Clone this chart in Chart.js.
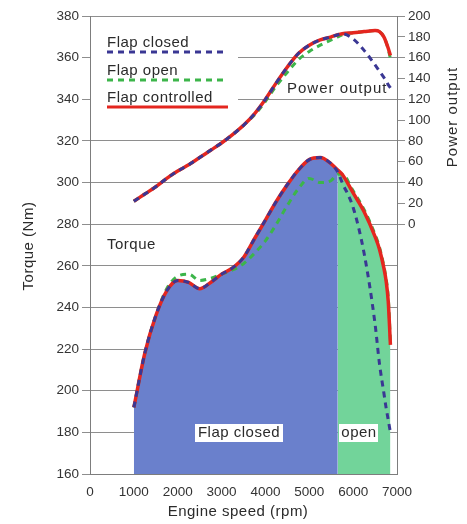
<!DOCTYPE html>
<html>
<head>
<meta charset="utf-8">
<script src="https://cdn.jsdelivr.net/npm/chart.js@4.4.1/dist/chart.umd.min.js"></script>
<style>
  html, body { margin: 0; padding: 0; background: #ffffff; }
  #wrap { width: 467px; height: 524px; }
  canvas { display: block; }
</style>
</head>
<body>
<div id="wrap"><canvas id="chart" width="467" height="524"></canvas></div>
<script>
// Engine speed sample points (rpm)
const rpm = [1000, 1250, 1500, 1750, 2000, 2250, 2500, 2750, 3000, 3250, 3500, 3750, 4000, 4250,
             4500, 4750, 5000, 5250, 5500, 5650, 5750, 6000, 6250, 6500, 6600, 6700, 6750, 6800, 6850];

// Torque (Nm)
const torqueClosed     = [192, 218, 236, 248, 253, 252, 249, 252, 256, 259, 264, 273, 282, 291,
                          299, 306, 311, 312, 309, 305, 300, 288, 266, 232, 213, 199, 192, 186, 180];
const torqueOpen       = [192, 218, 236, 249, 255, 256, 253, 254, 256, 258, 261, 266, 272, 280,
                          289, 297, 302, 300, 301, 304, 304, 296, 287, 275, 269, 260, 254, 245, 224];
const torqueControlled = [192, 218, 236, 248, 253, 252, 249, 252, 256, 259, 264, 273, 282, 291,
                          299, 306, 311, 312, 309, 306, 304, 295, 286, 274, 268, 259, 253, 243, 222];

// Power output (kW)
const powerClosed      = [22, 29, 36, 44, 51, 57, 64, 71, 78, 86, 95, 106, 120, 136,
                          151, 164, 172, 177, 180, 182, 183, 178, 167, 153, 147, 141, 138, 134, 131];
const powerOpen        = [22, 29, 36, 44, 51, 57, 64, 71, 78, 86, 95, 105, 118, 133,
                          146, 158, 166, 172, 177, 180, 182, 184, 185, 186, 185, 180, 175, 168, 159];
const powerControlled  = [22, 29, 36, 44, 51, 57, 64, 71, 78, 86, 95, 106, 120, 136,
                          151, 164, 172, 177, 180, 182, 183, 184, 185, 186, 185, 180, 175, 169, 162];

// Flap switches from closed to open at this speed
const flapSwitchRpm = 5650;

// Tick labels
const speedTicks  = [0, 1000, 2000, 3000, 4000, 5000, 6000, 7000];
const torqueTicks = [160, 180, 200, 220, 240, 260, 280, 300, 320, 340, 360, 380];
const powerTicks  = [0, 20, 40, 60, 80, 100, 120, 140, 160, 180, 200];

const pts = (ys) => rpm.map((r, i) => ({ x: r, y: ys[i] }));
const closedZone = rpm.map((r, i) => ({ x: r, y: torqueControlled[i] })).filter(p => p.x <= flapSwitchRpm);
const openZone   = rpm.map((r, i) => ({ x: r, y: torqueControlled[i] })).filter(p => p.x >= flapSwitchRpm);

const C_CLOSED = '#3a3794';
const C_OPEN = '#3cb54a';
const C_CTRL = '#e4261f';
const FILL_CLOSED = '#6a80cc';
const FILL_OPEN = '#72d49a';
const GRID = '#8e8e8e';
const TEXT = '#2b2b2b';
const DASH = [6, 5];

const lineBase = { pointRadius: 0, fill: false, cubicInterpolationMode: 'monotone' };

const textFont = '15px "Liberation Sans", Arial, sans-serif';

function putText(ctx, s, x, y, opts = {}) {
  ctx.save();
  ctx.font = opts.font || textFont;
  ctx.letterSpacing = opts.spacing || '0.5px';
  ctx.fillStyle = TEXT;
  ctx.textBaseline = 'middle';
  ctx.textAlign = opts.align || 'left';
  ctx.translate(x, y);
  if (opts.rot) ctx.rotate(opts.rot);
  ctx.fillText(s, 0, 0);
  ctx.restore();
}

// Legend, in-plot labels and axis titles
const annotations = {
  id: 'annotations',
  afterDatasetsDraw(chart) {
    const ctx = chart.ctx;
    const a = chart.chartArea;

    // legend panel
    ctx.save();
    ctx.fillStyle = '#ffffff';
    ctx.fillRect(a.left + 1, 30, 147, 84);
    ctx.restore();

    const legend = [
      { label: 'Flap closed', color: C_CLOSED, dash: DASH, ty: 43, ly: 52 },
      { label: 'Flap open', color: C_OPEN, dash: DASH, ty: 71, ly: 80 },
      { label: 'Flap controlled', color: C_CTRL, dash: [], ty: 98, ly: 107 }
    ];
    legend.forEach(e => {
      putText(ctx, e.label, 107, e.ty);
      ctx.save();
      ctx.strokeStyle = e.color;
      ctx.lineWidth = 3;
      ctx.setLineDash(e.dash);
      ctx.beginPath();
      ctx.moveTo(107, e.ly);
      ctx.lineTo(228, e.ly);
      ctx.stroke();
      ctx.restore();
    });

    // labels inside the plot
    putText(ctx, 'Torque', 107, 245);
    putText(ctx, 'Power output', 287, 89, { spacing: '1px' });

    ctx.save();
    ctx.fillStyle = '#ffffff';
    ctx.fillRect(195, 424, 88, 18);
    ctx.fillRect(339, 424, 39, 18);
    ctx.restore();
    putText(ctx, 'Flap closed', 239, 433, { align: 'center' });
    putText(ctx, 'open', 359, 433, { align: 'center' });

    // axis titles
    putText(ctx, 'Engine speed (rpm)', 238, 512, { align: 'center' });
    putText(ctx, 'Torque (Nm)', 29, 246, { align: 'center', rot: -Math.PI / 2 });
    putText(ctx, 'Power output', 453, 117, { align: 'center', rot: -Math.PI / 2, spacing: '1px' });
  }
};

const tickFont = { family: '"Liberation Sans", Arial, sans-serif', size: 13.5 };
const plainLabel = v => String(v);

new Chart(document.getElementById('chart'), {
  type: 'line',
  data: {
    datasets: [
      // shaded operating zones
      { ...lineBase, data: closedZone, yAxisID: 'y', fill: 'start', backgroundColor: FILL_CLOSED,
        borderWidth: 0, borderColor: 'rgba(0,0,0,0)', order: 9 },
      { ...lineBase, data: openZone, yAxisID: 'y', fill: 'start', backgroundColor: FILL_OPEN,
        borderWidth: 0, borderColor: 'rgba(0,0,0,0)', order: 8 },
      // torque curves
      { ...lineBase, label: 'Flap open', data: pts(torqueOpen), yAxisID: 'y',
        borderColor: C_OPEN, borderWidth: 3, borderDash: DASH, order: 5 },
      { ...lineBase, label: 'Flap controlled', data: pts(torqueControlled), yAxisID: 'y',
        borderColor: C_CTRL, borderWidth: 3.5, order: 4 },
      { ...lineBase, label: 'Flap closed', data: pts(torqueClosed), yAxisID: 'y',
        borderColor: C_CLOSED, borderWidth: 3, borderDash: DASH, order: 3 },
      // power curves
      { ...lineBase, label: 'Flap open', data: pts(powerOpen), yAxisID: 'y2',
        borderColor: C_OPEN, borderWidth: 3, borderDash: DASH, order: 5 },
      { ...lineBase, label: 'Flap controlled', data: pts(powerControlled), yAxisID: 'y2',
        borderColor: C_CTRL, borderWidth: 3.5, order: 4 },
      { ...lineBase, label: 'Flap closed', data: pts(powerClosed), yAxisID: 'y2',
        borderColor: C_CLOSED, borderWidth: 3, borderDash: DASH, order: 3 }
    ]
  },
  options: {
    responsive: false,
    animation: false,
    layout: { padding: { top: 16, left: 0, right: 0, bottom: 0 } },
    plugins: { legend: { display: false }, tooltip: { enabled: false } },
    scales: {
      x: {
        type: 'linear', min: 0, max: 7000,
        afterBuildTicks: s => { s.ticks = speedTicks.map(v => ({ value: v })); },
        afterFit: s => { s.height = 50; },
        grid: { drawOnChartArea: false, drawTicks: false },
        border: { color: '#7d7d7d', width: 1 },
        ticks: { font: tickFont, color: '#333', padding: 10, maxRotation: 0, autoSkip: false, callback: plainLabel }
      },
      y: {
        type: 'linear', position: 'left', min: 160, max: 380,
        afterBuildTicks: s => { s.ticks = torqueTicks.map(v => ({ value: v })); },
        afterFit: s => { s.width = 90; },
        grid: { color: GRID, lineWidth: 1, tickLength: 8 },
        border: { color: '#7d7d7d', width: 1 },
        ticks: { font: tickFont, color: '#333', padding: 3, autoSkip: false, callback: plainLabel }
      },
      y2: {
        type: 'linear', position: 'right', min: -240, max: 200,
        afterBuildTicks: s => { s.ticks = powerTicks.map(v => ({ value: v })); },
        afterFit: s => { s.width = 70; },
        grid: { drawOnChartArea: false, color: GRID, lineWidth: 1, tickLength: 8 },
        border: { color: '#7d7d7d', width: 1 },
        ticks: { font: tickFont, color: '#333', padding: 3, autoSkip: false, callback: plainLabel }
      }
    }
  },
  plugins: [annotations]
});
</script>
</body>
</html>
